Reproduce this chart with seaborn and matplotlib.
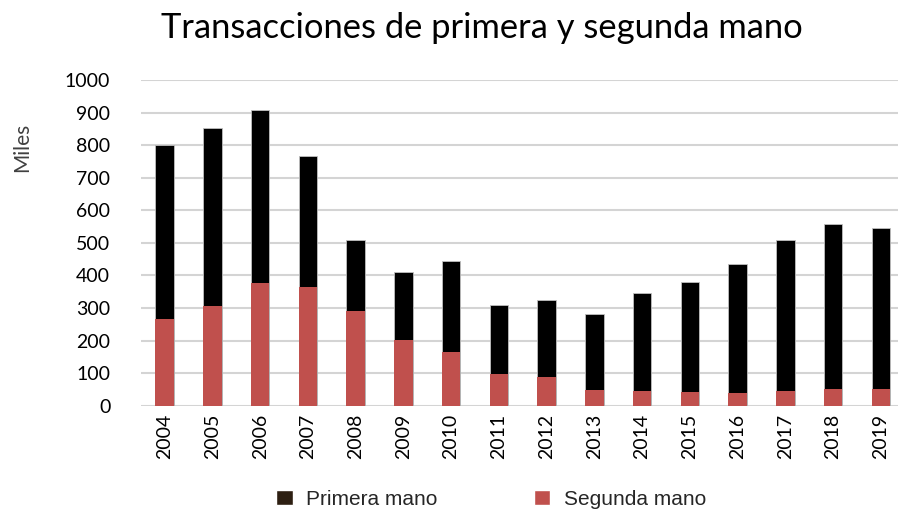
import numpy as np
import pandas as pd
import matplotlib
matplotlib.use('Agg')
import matplotlib.pyplot as plt
import seaborn as sns
from matplotlib.patches import Patch

# data (miles de transacciones)
years = [str(y) for y in range(2004, 2020)]
segunda_mano = [267, 305, 376, 364, 291, 201, 165, 97, 89, 48, 45, 41, 40, 44, 50, 50]
primera_mano = [533, 549, 531, 404, 218, 211, 278, 211, 237, 235, 301, 340, 396, 465, 508, 496]

df = pd.DataFrame({'year': years, 'segunda': segunda_mano, 'primera': primera_mano})
df['total'] = df['segunda'] + df['primera']

sns.set_theme(style='white')
plt.rcParams['font.family'] = ['Lato', 'DejaVu Sans']

fig = plt.figure(figsize=(8.98, 5.13), dpi=100)
ax = fig.add_axes([0.1568, 0.2092, 1 - 0.1568, 0.844 - 0.2092])

# stacked: total in black, segunda mano drawn over the bottom part
sns.barplot(data=df, x='year', y='total', color='black', width=0.39,
            edgecolor='#bfbfbf', linewidth=0.6, saturation=1, ax=ax)
sns.barplot(data=df, x='year', y='segunda', color='#C0504D', width=0.39,
            edgecolor='#C0504D', linewidth=0.0, saturation=1, ax=ax)

ax.set_ylim(0, 1000)
ax.set_xlim(-0.5, 15.36)
ax.set_yticks(np.arange(0, 1001, 100))
ax.yaxis.grid(True, color='#d4d4d4', linewidth=1.5)
ax.set_axisbelow(True)
for s in ax.spines.values():
    s.set_visible(False)
ax.set_xlabel('')
ax.set_ylabel('')
ax.tick_params(axis='y', length=0, labelsize=14, pad=22, labelcolor='black')
ax.tick_params(axis='x', length=0, labelsize=14, rotation=90, pad=6, labelcolor='black')

fig.text(482 / 898, 0.945, 'Transacciones de primera y segunda mano', ha='center', va='center',
         fontsize=24.8, color='black')
fig.text(22 / 898, 1 - 147 / 513, 'Miles', rotation=90, ha='center', va='center',
         fontsize=15, color='#404040')

handles = [Patch(facecolor='#2d1f12', label='Primera mano'),
           Patch(facecolor='#C0504D', label='Segunda mano')]
fig.legend(handles=handles, loc='center', bbox_to_anchor=(0.547, 0.027), ncol=2,
           frameon=False, handlelength=0.8, handleheight=0.8, handletextpad=0.67,
           columnspacing=4.6, prop={'family': 'Liberation Sans', 'size': 15})

fig.savefig('out.png', dpi=100)
